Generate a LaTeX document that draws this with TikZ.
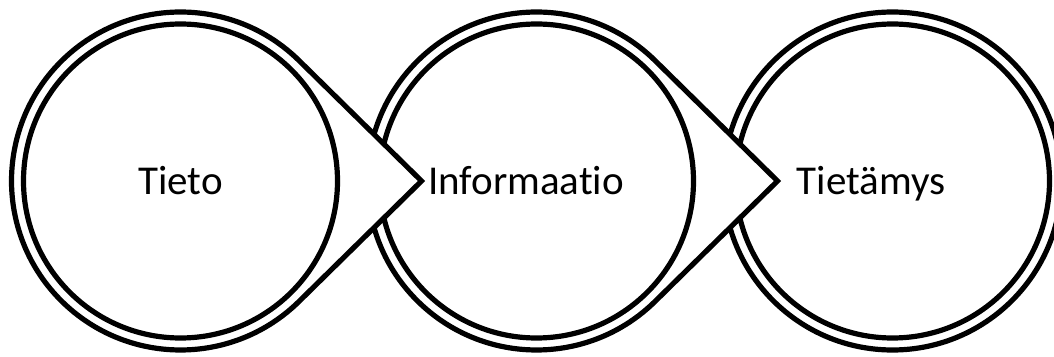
\documentclass[tikz,border=0pt]{standalone}
\usepackage{fontspec}
\setmainfont{Carlito}[Ligatures=NoCommon]
\usetikzlibrary{calc}
\tikzset{
  ring/.style={draw=black, line width=5.2pt, fill=white},
  label/.style={font=\fontsize{41}{48}\selectfont, anchor=base, inner sep=0pt}
}
\begin{document}
\begin{tikzpicture}[x=1pt,y=1pt]
\fill[white] (0,0) rectangle (1054,356);
\useasboundingbox (0,0) rectangle (1054,356);
\def\R{169}
\def\r{157}
\def\ang{45.47}
% centers
\coordinate (c1) at (180.5,175);
\coordinate (c2) at (536.5,175);
\coordinate (c3) at (892.5,175);
\coordinate (t1) at (421.5,175);
\coordinate (t2) at (777.5,175);
% shape 3
\draw[ring] (c3) circle[radius=\R];
\draw[ring] (c3) circle[radius=\r];
% shape 2 (teardrop)
\draw[ring, line join=miter] (t2) -- ($(c2)+(\ang:\R)$) arc[start angle=\ang, end angle=360-\ang, radius=\R] -- cycle;
\draw[ring] (c2) circle[radius=\r];
% shape 1 (teardrop)
\draw[ring, line join=miter] (t1) -- ($(c1)+(\ang:\R)$) arc[start angle=\ang, end angle=360-\ang, radius=\R] -- cycle;
\draw[ring] (c1) circle[radius=\r];
% labels
\node[label] (l1) at (180.5,161) {Tieto};
\node[label] (l2) at (526,161) {Informaatio};
\node[label] (l3) at (871,161) {Tietämys};
\end{tikzpicture}
\end{document}
